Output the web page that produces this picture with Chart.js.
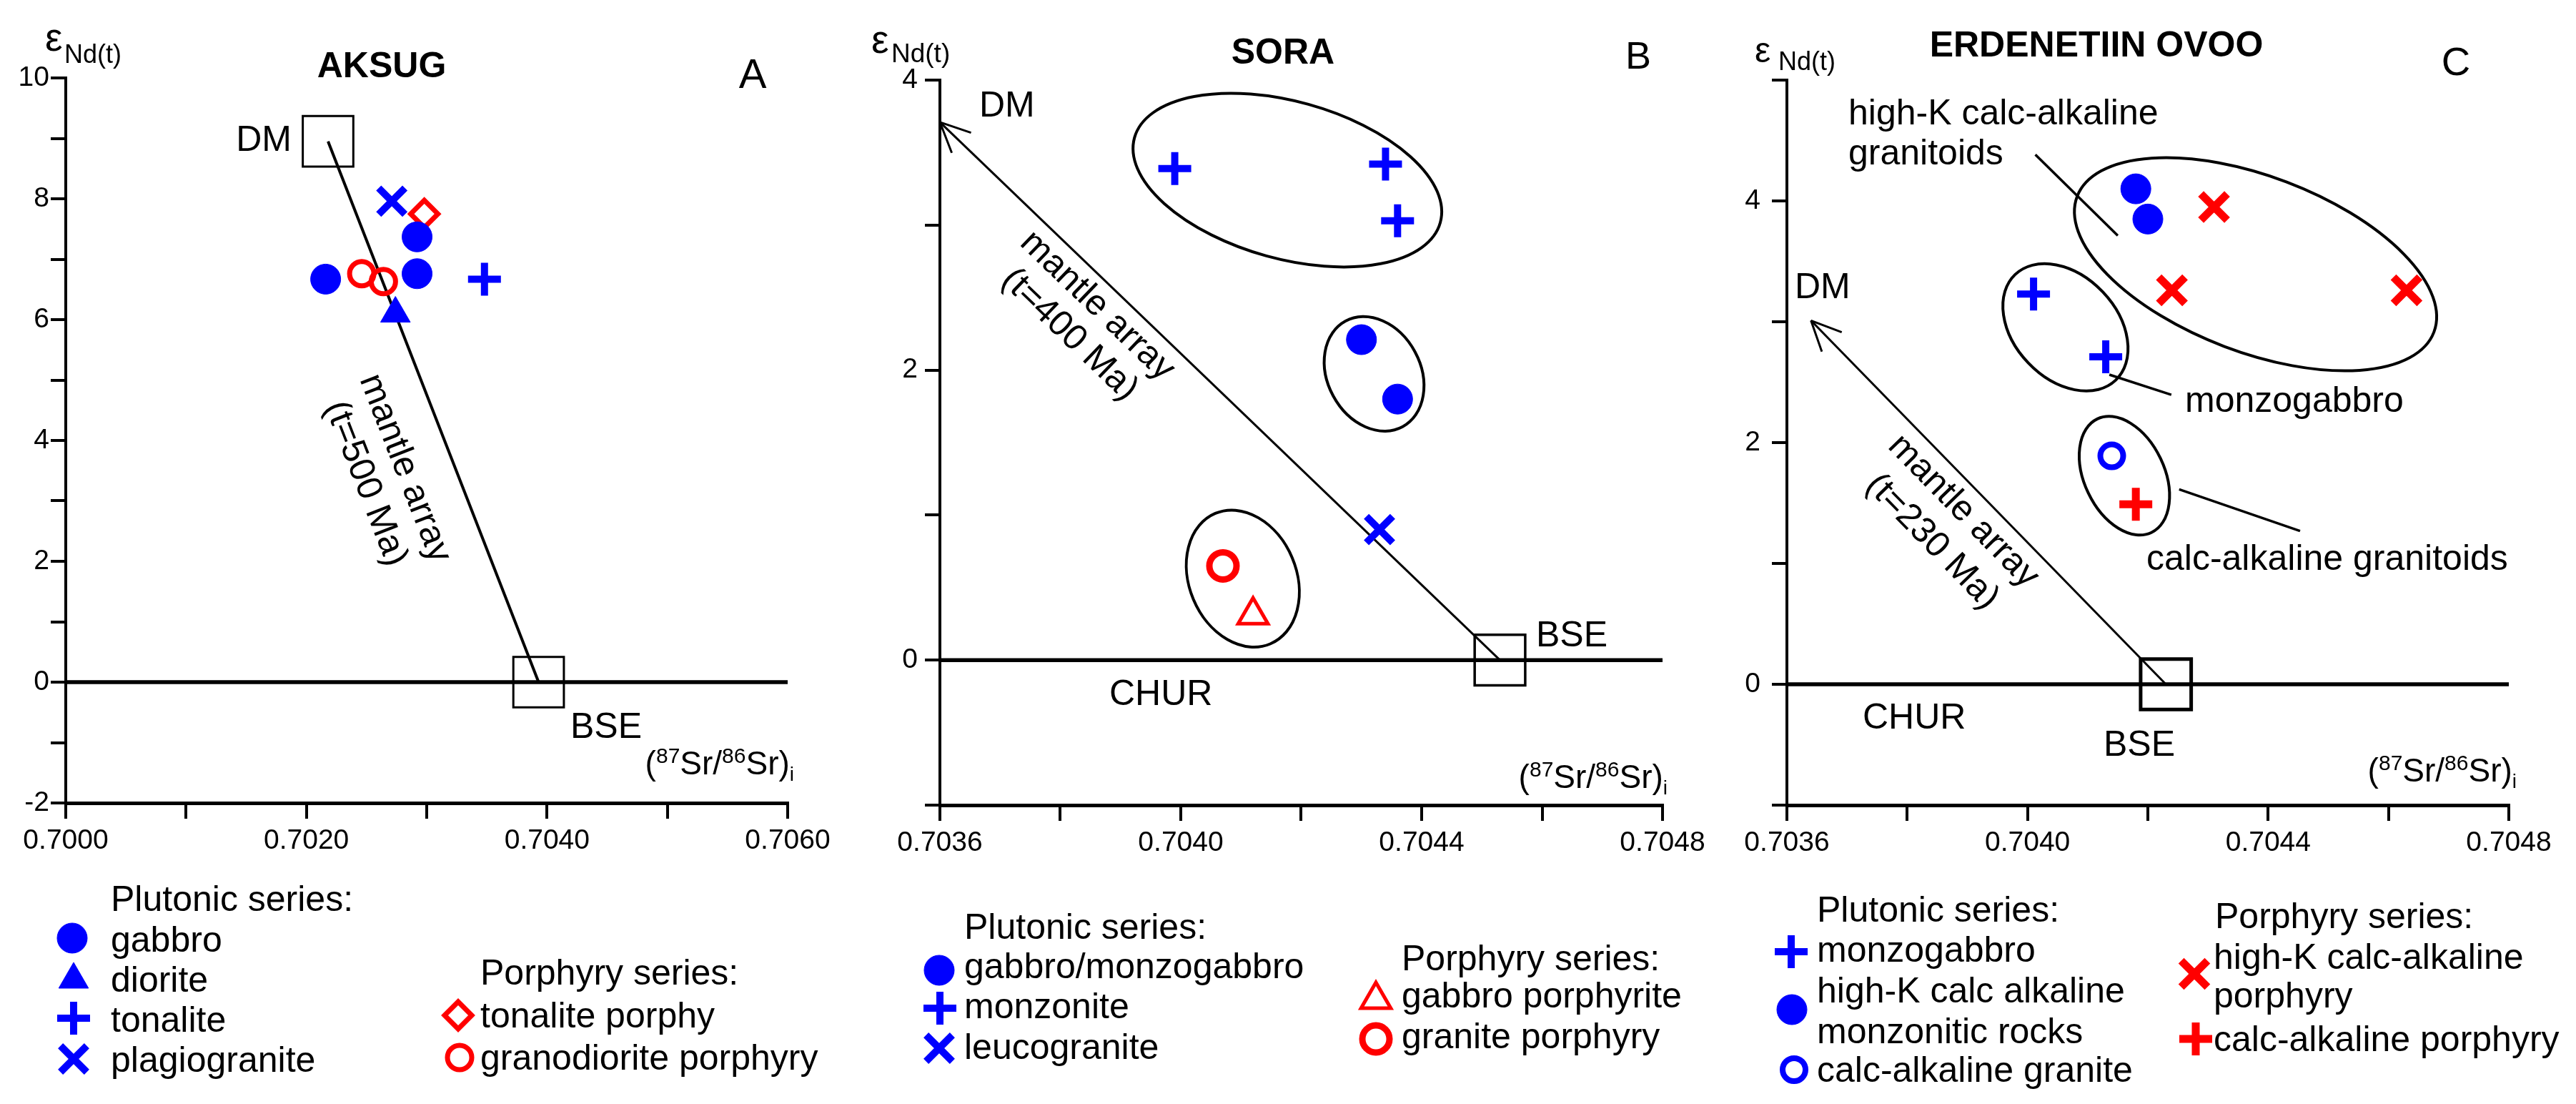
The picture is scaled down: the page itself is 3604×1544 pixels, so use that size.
<!DOCTYPE html>
<html>
<head>
<meta charset="utf-8">
<script src="https://cdn.jsdelivr.net/npm/chart.js@4.4.1/dist/chart.umd.min.js"></script>
<style>
  body { margin: 0; background: #fff; }
  #wrap { position: relative; width: 3604px; height: 1544px; background: #fff; }
  canvas { position: absolute; top: 0; }
</style>
</head>
<body>
<div id="wrap">
  <canvas id="panelA" width="1200" height="1544" style="left:0px"></canvas>
  <canvas id="panelB" width="1200" height="1544" style="left:1200px"></canvas>
  <canvas id="panelC" width="1204" height="1544" style="left:2400px"></canvas>
</div>
<script>
const FONT = "'Liberation Sans', Arial, Helvetica, sans-serif";
const BLUE = '#0000ff';
const RED = '#ff0000';

// ---- A: Aksug ----
const aXRange = [0.7000, 0.7060];
const aYRange = [-2, 10];
const aXLabels = ['0.7000', '0.7020', '0.7040', '0.7060'];
const aYLabels = ['-2', '0', '2', '4', '6', '8', '10'];
const aGabbroX = [0.70216, 0.70292, 0.70292];
const aGabbroY = [6.67, 7.37, 6.76];
const aDioriteX = [0.70274];
const aDioriteY = [6.10];
const aTonaliteX = [0.70348];
const aTonaliteY = [6.67];
const aPlagioX = [0.70271];
const aPlagioY = [7.96];
const aTonPorphX = [0.70298];
const aTonPorphY = [7.75];
const aGranodX = [0.70246, 0.70264];
const aGranodY = [6.76, 6.63];
const aDM = [0.70218, 8.95];
const aBSE = [0.70393, 0];
const aPlutonicLabels = ['gabbro', 'diorite', 'tonalite', 'plagiogranite'];
const aPorphyryLabels = ['tonalite porphy', 'granodiorite porphyry'];

// ---- B: Sora ----
const bXRange = [0.7036, 0.7048];
const bYRange = [-1, 4];
const bXLabels = ['0.7036', '0.7040', '0.7044', '0.7048'];
const bYLabels = ['0', '2', '4'];
const bGabbroX = [0.70430, 0.70436];
const bGabbroY = [2.21, 1.80];
const bMonzoniteX = [0.70399, 0.70434, 0.70436];
const bMonzoniteY = [3.39, 3.42, 3.03];
const bLeucoX = [0.70433];
const bLeucoY = [0.90];
const bGabPorphX = [0.70412];
const bGabPorphY = [0.31];
const bGranPorphX = [0.70407];
const bGranPorphY = [0.65];
const bDM = [0.70360, 3.71];
const bBSE = [0.70453, 0];
const bPlutonicLabels = ['gabbro/monzogabbro', 'monzonite', 'leucogranite'];
const bPorphyryLabels = ['gabbro porphyrite', 'granite porphyry'];

// ---- C: Erdenetiin Ovoo ----
const cXRange = [0.7036, 0.7048];
const cYRange = [-1, 5];
const cXLabels = ['0.7036', '0.7040', '0.7044', '0.7048'];
const cYLabels = ['0', '2', '4'];
const cMonzogabbroX = [0.70401, 0.70413];
const cMonzogabbroY = [3.23, 2.71];
const cHighKX = [0.70418, 0.70420];
const cHighKY = [4.10, 3.85];
const cCaGraniteX = [0.70414];
const cCaGraniteY = [1.89];
const cHighKPorphX = [0.70431, 0.70424, 0.70463];
const cHighKPorphY = [3.95, 3.26, 3.26];
const cCaPorphX = [0.70418];
const cCaPorphY = [1.49];
const cDM = [0.70364, 3.01];
const cBSE = [0.70423, 0];
const cPlutonicLabels = ['monzogabbro', 'high-K calc alkaline\nmonzonitic rocks', 'calc-alkaline granite'];
const cPorphyryLabels = ['high-K calc-alkaline\nporphyry', 'calc-alkaline porphyry'];

// marker styles
const marks = {
  dot:     { pointStyle: 'circle',   radius: 21, color: BLUE, fill: true,  width: 1 },
  tri:     { pointStyle: 'triangle', radius: 24, color: BLUE, fill: true,  width: 1 },
  plusB:   { pointStyle: 'cross',    radius: 23, color: BLUE, fill: false, width: 10 },
  xB:      { pointStyle: 'crossRot', radius: 26, color: BLUE, fill: false, width: 10 },
  diamond: { pointStyle: 'rectRot',  radius: 19, color: RED,  fill: false, width: 7 },
  ringR:   { pointStyle: 'circle',   radius: 17, color: RED,  fill: false, width: 7 },
  ringRB:  { pointStyle: 'circle',   radius: 19, color: RED,  fill: false, width: 9 },
  triR:    { pointStyle: 'triangle', radius: 24, color: RED,  fill: false, width: 5 },
  ringB:   { pointStyle: 'circle',   radius: 16, color: BLUE, fill: false, width: 8 },
  xR:      { pointStyle: 'crossRot', radius: 26, color: RED,  fill: false, width: 11 },
  plusR:   { pointStyle: 'cross',    radius: 23, color: RED,  fill: false, width: 11 }
};

Chart.defaults.font.family = FONT;
Chart.defaults.color = '#000';

function pts(xs, ys) { return xs.map((x, i) => ({ x: x, y: ys[i] })); }

function markSet(data, m) {
  return {
    data: data, showLine: false,
    pointStyle: m.pointStyle, pointRadius: m.radius, pointHoverRadius: m.radius,
    pointBorderWidth: m.width, pointHoverBorderWidth: m.width,
    pointBorderColor: m.color,
    pointBackgroundColor: m.fill ? m.color : 'rgba(0,0,0,0)',
    order: 1
  };
}
function lineSet(data, w) {
  return { data: data, showLine: true, borderColor: '#000', borderWidth: w,
    pointRadius: 0, pointHoverRadius: 0, fill: false, order: 5 };
}
function boxSet(data, w) {
  return { data: data, showLine: false, pointStyle: 'rect', pointRadius: 50, pointHoverRadius: 50,
    pointBorderWidth: w, pointBorderColor: '#000', pointBackgroundColor: 'rgba(0,0,0,0)', order: 4 };
}

function drawMark(ctx, m, x, y) {
  const r = m.radius;
  ctx.save();
  ctx.strokeStyle = m.color; ctx.fillStyle = m.color; ctx.lineWidth = m.width;
  ctx.beginPath();
  if (m.pointStyle === 'circle') {
    ctx.arc(x, y, r, 0, Math.PI * 2);
  } else if (m.pointStyle === 'triangle') {
    for (let k = 0; k < 3; k++) {
      const a = k * 2 * Math.PI / 3;
      const px = x + Math.sin(a) * r, py = y - Math.cos(a) * r;
      if (k === 0) ctx.moveTo(px, py); else ctx.lineTo(px, py);
    }
    ctx.closePath();
  } else if (m.pointStyle === 'cross') {
    ctx.moveTo(x, y - r); ctx.lineTo(x, y + r);
    ctx.moveTo(x - r, y); ctx.lineTo(x + r, y);
  } else if (m.pointStyle === 'crossRot') {
    const o = r * Math.SQRT1_2;
    ctx.moveTo(x - o, y - o); ctx.lineTo(x + o, y + o);
    ctx.moveTo(x + o, y - o); ctx.lineTo(x - o, y + o);
  } else if (m.pointStyle === 'rectRot') {
    ctx.moveTo(x - r, y); ctx.lineTo(x, y - r); ctx.lineTo(x + r, y); ctx.lineTo(x, y + r);
    ctx.closePath();
  }
  if (m.fill) ctx.fill();
  ctx.stroke();
  ctx.restore();
}

function txt(ctx, s, x, y, size, bold, align) {
  ctx.save();
  ctx.font = (bold ? 'bold ' : '') + size + 'px ' + FONT;
  ctx.fillStyle = '#000';
  ctx.textAlign = align || 'left';
  ctx.textBaseline = 'alphabetic';
  ctx.fillText(s, x, y);
  ctx.restore();
}

// (87Sr/86Sr)i with raised / lowered parts, right aligned
function srTitle(ctx, right, base) {
  const parts = [['(', 46, 0], ['87', 30, -16], ['Sr/', 46, 0], ['86', 30, -16], ['Sr)', 46, 0], ['i', 28, 9]];
  let total = 0;
  parts.forEach(p => { ctx.font = p[1] + 'px ' + FONT; total += ctx.measureText(p[0]).width; });
  let x = right - total;
  parts.forEach(p => {
    ctx.font = p[1] + 'px ' + FONT;
    txt(ctx, p[0], x, base + p[2], p[1]);
    x += ctx.measureText(p[0]).width;
  });
}

function makePanel(p) {
  const notes = {
    id: 'notes_' + p.id,
    beforeDatasetsDraw(chart) {
      const ctx = chart.ctx, X = chart.scales.x, Y = chart.scales.y;
      ctx.save();
      ctx.strokeStyle = '#000'; ctx.lineWidth = 4;
      (p.ellipses || []).forEach(e => {
        ctx.beginPath();
        ctx.ellipse(X.getPixelForValue(e[0]), Y.getPixelForValue(e[1]), e[2], e[3], e[4] * Math.PI / 180, 0, Math.PI * 2);
        ctx.stroke();
      });
      ctx.lineWidth = 3.5;
      (p.leaders || []).forEach(l => {
        ctx.beginPath();
        ctx.moveTo(X.getPixelForValue(l[0]), Y.getPixelForValue(l[1]));
        ctx.lineTo(X.getPixelForValue(l[2]), Y.getPixelForValue(l[3]));
        ctx.stroke();
      });
      ctx.restore();
    },
    afterDraw(chart) {
      const ctx = chart.ctx, X = chart.scales.x, Y = chart.scales.y;
      const p0 = { x: X.getPixelForValue(p.dm[0]), y: Y.getPixelForValue(p.dm[1]) };
      const p1 = { x: X.getPixelForValue(p.bse[0]), y: Y.getPixelForValue(p.bse[1]) };
      const ang = Math.atan2(p1.y - p0.y, p1.x - p0.x);
      // arrow head at the DM end
      if (p.arrow) {
        ctx.save();
        ctx.strokeStyle = '#000'; ctx.lineWidth = 3;
        ctx.beginPath();
        [-25, 25].forEach(d => {
          const a = ang + d * Math.PI / 180;
          ctx.moveTo(p0.x, p0.y);
          ctx.lineTo(p0.x + 46 * Math.cos(a), p0.y + 46 * Math.sin(a));
        });
        ctx.stroke();
        ctx.restore();
      }
      // mantle array label along the line
      const cx = p0.x + (p1.x - p0.x) * p.mantle.t, cy = p0.y + (p1.y - p0.y) * p.mantle.t;
      ctx.save();
      ctx.translate(cx, cy); ctx.rotate(ang);
      ctx.font = '50px ' + FONT; ctx.fillStyle = '#000';
      ctx.textAlign = 'center'; ctx.textBaseline = 'middle';
      ctx.fillText('mantle array', 0, p.mantle.d1);
      ctx.fillText(p.mantle.age, 0, p.mantle.d2);
      ctx.restore();
      // texts
      p.texts.forEach(t => txt(ctx, t[0], t[1], t[2], t[3], t[4], t[5]));
      // epsilon Nd(t) label
      txt(ctx, '\u03b5', p.eps[0], p.eps[1], p.eps[2]);
      txt(ctx, 'Nd(t)', p.eps[3], p.eps[4], p.eps[5]);
      srTitle(ctx, p.sr[0], p.sr[1]);
      // legend
      p.legend.forEach(it => {
        if (it.mark) drawMark(ctx, marks[it.mark], it.mx, it.my);
        it.lines.forEach((s, k) => txt(ctx, s, it.x, it.base[k], 50));
      });
    }
  };
  const A = p.area;
  return new Chart(document.getElementById(p.id), {
    type: 'scatter',
    data: { datasets: p.datasets },
    options: {
      responsive: false, animation: false, devicePixelRatio: 1, events: [],
      layout: { padding: { left: 0, top: A[1], right: p.width - A[2], bottom: 1544 - A[3] - 70 } },
      plugins: { legend: { display: false }, tooltip: { enabled: false } },
      scales: {
        x: {
          type: 'linear', min: p.xr[0], max: p.xr[1],
          afterFit: s => { s.height = 70; },
          border: { display: true, color: '#000', width: 5 },
          grid: { drawOnChartArea: false, drawTicks: true, tickLength: 22, color: '#000', lineWidth: 4 },
          ticks: {
            stepSize: p.xStep, autoSkip: false, maxRotation: 0, padding: 8, color: '#000',
            font: { size: 39 },
            callback: v => { const s = Number(v).toFixed(4); return p.xl.includes(s) ? s : ''; }
          }
        },
        y: {
          type: 'linear', min: p.yr[0], max: p.yr[1],
          afterFit: s => { s.width = A[0]; },
          border: { display: true, color: '#000', width: 4 },
          grid: { drawOnChartArea: false, drawTicks: true, tickLength: 21, color: '#000', lineWidth: 4 },
          ticks: {
            stepSize: 1, autoSkip: false, padding: p.yPad, color: '#000',
            font: { size: 39 },
            callback: v => p.yl.includes(String(v)) ? String(v) : ''
          }
        }
      }
    },
    plugins: [notes]
  });
}

// Panel A
makePanel({
  id: 'panelA', width: 1200, area: [92, 109, 1102, 1123],
  xr: aXRange, yr: aYRange, xStep: 0.001, xl: aXLabels, yl: aYLabels, yPad: 2,
  dm: aDM, bse: aBSE, arrow: false,
  datasets: [
    lineSet(pts(aXRange, [0, 0]), 5.5),
    lineSet(pts([aDM[0], aBSE[0]], [aDM[1], aBSE[1]]), 4),
    boxSet(pts([aDM[0], aBSE[0]], [aDM[1], aBSE[1]]), 3),
    markSet(pts(aGabbroX, aGabbroY), marks.dot),
    markSet(pts(aDioriteX, aDioriteY), marks.tri),
    markSet(pts(aTonaliteX, aTonaliteY), marks.plusB),
    markSet(pts(aPlagioX, aPlagioY), marks.xB),
    markSet(pts(aTonPorphX, aTonPorphY), marks.diamond),
    markSet(pts(aGranodX, aGranodY), marks.ringR)
  ],
  mantle: { t: 0.573, d1: 66, d2: 125, age: '(t=500 Ma)' },
  texts: [
    ['AKSUG', 534, 108, 50, true, 'center'],
    ['A', 1053, 123, 58, false, 'center'],
    ['DM', 408, 211, 50, false, 'right'],
    ['BSE', 848, 1032, 50, false, 'center'],
    ['Plutonic series:', 155, 1274, 50, false, 'left'],
    ['Porphyry series:', 672, 1377, 50, false, 'left']
  ],
  eps: [63, 71, 55, 90, 88, 36],
  sr: [1111, 1083],
  legend: [
    { mark: 'dot', mx: 101, my: 1312, x: 155, lines: [aPlutonicLabels[0]], base: [1331] },
    { mark: 'tri', mx: 103, my: 1370, x: 155, lines: [aPlutonicLabels[1]], base: [1387] },
    { mark: 'plusB', mx: 103, my: 1424, x: 155, lines: [aPlutonicLabels[2]], base: [1443] },
    { mark: 'xB', mx: 103, my: 1481, x: 155, lines: [aPlutonicLabels[3]], base: [1499] },
    { mark: 'diamond', mx: 641, my: 1420, x: 672, lines: [aPorphyryLabels[0]], base: [1437] },
    { mark: 'ringR', mx: 643, my: 1479, x: 672, lines: [aPorphyryLabels[1]], base: [1496] }
  ]
});

// Panel B
makePanel({
  id: 'panelB', width: 1200, area: [115, 112, 1126, 1126],
  xr: bXRange, yr: bYRange, xStep: 0.0002, xl: bXLabels, yl: bYLabels, yPad: 10,
  dm: bDM, bse: bBSE, arrow: true,
  datasets: [
    lineSet(pts(bXRange, [0, 0]), 5.5),
    lineSet(pts([bDM[0], bBSE[0]], [bDM[1], bBSE[1]]), 3),
    boxSet(pts([bBSE[0]], [bBSE[1]]), 3.5),
    markSet(pts(bGabbroX, bGabbroY), marks.dot),
    markSet(pts(bMonzoniteX, bMonzoniteY), marks.plusB),
    markSet(pts(bLeucoX, bLeucoY), marks.xB),
    markSet(pts(bGabPorphX, bGabPorphY), marks.triR),
    markSet(pts(bGranPorphX, bGranPorphY), marks.ringRB)
  ],
  ellipses: [
    [0.704177, 3.31, 222, 110, 15.5],
    [0.704321, 1.974, 84, 65, 61.6],
    [0.704103, 0.562, 99, 75, 67.2]
  ],
  mantle: { t: 0.31, d1: 33, d2: 89, age: '(t=400 Ma)' },
  texts: [
    ['SORA', 595, 89, 50, true, 'center'],
    ['B', 1092, 96, 54, false, 'center'],
    ['DM', 170, 163, 50, false, 'left'],
    ['BSE', 949, 904, 50, false, 'left'],
    ['CHUR', 352, 986, 50, false, 'left'],
    ['Plutonic series:', 149, 1313, 50, false, 'left'],
    ['Porphyry series:', 761, 1357, 50, false, 'left']
  ],
  eps: [19, 74, 55, 47, 87, 37],
  sr: [1133, 1102],
  legend: [
    { mark: 'dot', mx: 114, my: 1357, x: 149, lines: [bPlutonicLabels[0]], base: [1368] },
    { mark: 'plusB', mx: 115, my: 1410, x: 149, lines: [bPlutonicLabels[1]], base: [1424] },
    { mark: 'xB', mx: 114, my: 1466, x: 149, lines: [bPlutonicLabels[2]], base: [1481] },
    { mark: 'triR', mx: 725, my: 1398, x: 761, lines: [bPorphyryLabels[0]], base: [1409] },
    { mark: 'ringRB', mx: 725, my: 1453, x: 761, lines: [bPorphyryLabels[1]], base: [1466] }
  ]
});

// Panel C
makePanel({
  id: 'panelC', width: 1204, area: [100, 112, 1110, 1126],
  xr: cXRange, yr: cYRange, xStep: 0.0002, xl: cXLabels, yl: cYLabels, yPad: 16,
  dm: cDM, bse: cBSE, arrow: true,
  datasets: [
    lineSet(pts(cXRange, [0, 0]), 5.5),
    lineSet(pts([cDM[0], cBSE[0]], [cDM[1], cBSE[1]]), 3),
    boxSet(pts([cBSE[0]], [cBSE[1]]), 5),
    markSet(pts(cMonzogabbroX, cMonzogabbroY), marks.plusB),
    markSet(pts(cHighKX, cHighKY), marks.dot),
    markSet(pts(cCaGraniteX, cCaGraniteY), marks.ringB),
    markSet(pts(cHighKPorphX, cHighKPorphY), marks.xR),
    markSet(pts(cCaPorphX, cCaPorphY), marks.plusR)
  ],
  ellipses: [
    [0.704379, 3.476, 267, 123, 20.8],
    [0.704063, 2.954, 102, 72, 46.4],
    [0.704161, 1.726, 88, 56, 64.5]
  ],
  leaders: [
    [0.704013, 4.383, 0.70415, 3.713],
    [0.704136, 2.562, 0.704239, 2.396],
    [0.704252, 1.613, 0.704453, 1.269]
  ],
  mantle: { t: 0.478, d1: 34, d2: 95, age: '(t=230 Ma)' },
  texts: [
    ['ERDENETIIN OVOO', 533, 79, 50, true, 'center'],
    ['C', 1036, 105, 56, false, 'center'],
    ['DM', 111, 417, 50, false, 'left'],
    ['BSE', 593, 1057, 50, false, 'center'],
    ['CHUR', 206, 1019, 50, false, 'left'],
    ['high-K calc-alkaline', 186, 174, 50, false, 'left'],
    ['granitoids', 186, 230, 50, false, 'left'],
    ['monzogabbro', 657, 576, 50, false, 'left'],
    ['calc-alkaline granitoids', 603, 797, 50, false, 'left'],
    ['Plutonic series:', 142, 1289, 50, false, 'left'],
    ['Porphyry series:', 699, 1298, 50, false, 'left']
  ],
  eps: [55, 87, 50, 88, 98, 36],
  sr: [1121, 1093],
  legend: [
    { mark: 'plusB', mx: 106, my: 1331, x: 142, lines: [cPlutonicLabels[0]], base: [1345] },
    { mark: 'dot', mx: 107, my: 1412, x: 142, lines: cPlutonicLabels[1].split('\n'), base: [1402, 1459] },
    { mark: 'ringB', mx: 110, my: 1496, x: 142, lines: [cPlutonicLabels[2]], base: [1513] },
    { mark: 'xR', mx: 670, my: 1362, x: 697, lines: cPorphyryLabels[0].split('\n'), base: [1355, 1409] },
    { mark: 'plusR', mx: 672, my: 1453, x: 697, lines: [cPorphyryLabels[1]], base: [1470] }
  ]
});
</script>
</body>
</html>
